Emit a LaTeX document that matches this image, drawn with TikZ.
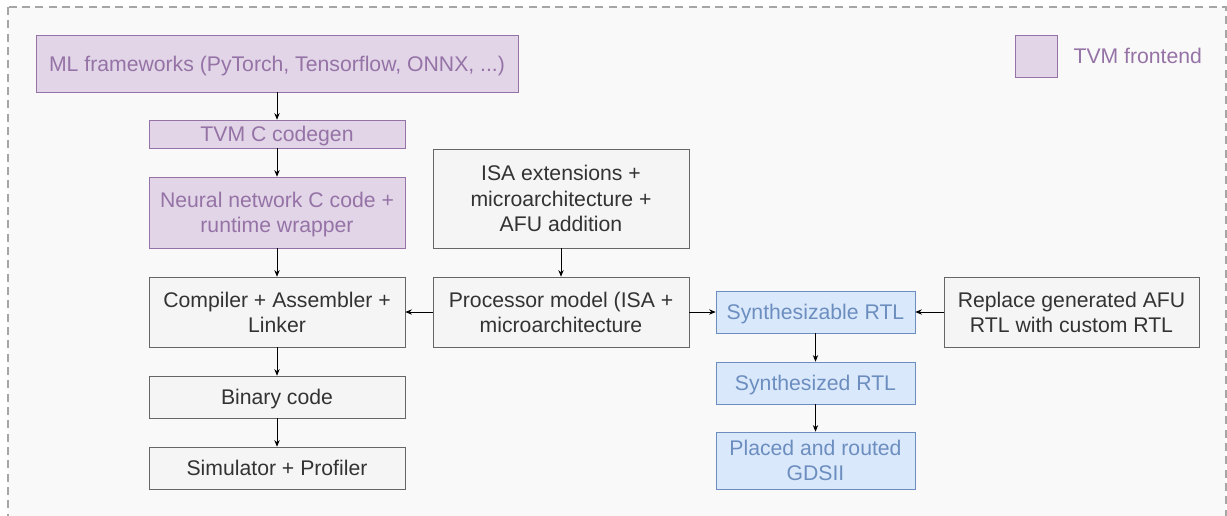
\documentclass[tikz,border=0pt]{standalone}
\usepackage{fontspec}
\setmainfont{Liberation Sans}
\usepackage{xcolor}
\usetikzlibrary{positioning, shapes, calc, arrows.meta}

\definecolor{tvmfill}{HTML}{E1D5E7}
\definecolor{tvmline}{HTML}{9673A6}
\definecolor{rtlfill}{HTML}{DAE8FC}
\definecolor{rtlline}{HTML}{6C8EBF}
\definecolor{toolfill}{HTML}{F5F5F5}
\definecolor{toolline}{HTML}{666666}
\definecolor{tooltext}{HTML}{333333}
\definecolor{pagefill}{HTML}{F9F9F9}

\begin{document}
\begin{tikzpicture}[x=0.75pt, y=-0.75pt, every node/.style={font=\fontsize{15.9}{19}\selectfont, text depth=0pt}]
	\tikzstyle{tvmbox}=[rectangle, draw=tvmline, fill=tvmfill, text=tvmline, align=center, inner sep=0pt]
	\tikzstyle{toolbox}=[rectangle, draw=toolline, fill=toolfill, text=tooltext, align=center, inner sep=0pt]
	\tikzstyle{rtlbox}=[rectangle, draw=rtlline, fill=rtlfill, text=rtlline, align=center, inner sep=0pt]
	\tikzstyle{flow}=[-{Stealth[length=5pt, width=4pt]}, black, line width=0.6pt]
	
	\useasboundingbox (0,0) rectangle (1227,515);
	\draw[dashed, draw=black!35, fill=pagefill, line width=0.9pt, dash pattern=on 6pt off 4pt] (8,7) rectangle (1226,540);
	
	% TVM frontend
	\node (f0) at (277,63.5) [tvmbox, minimum width=361.5pt, minimum height=42.75pt] {ML frameworks (PyTorch, Tensorflow, ONNX, ...)};
	\node (f1) at (277,134) [tvmbox, minimum width=192pt, minimum height=21pt] {TVM C codegen};
	\node (f2) at (277,212.5) [tvmbox, minimum width=192pt, minimum height=53.25pt] {Neural network C code +\\runtime wrapper};
	
	% software flow
	\node (c0) at (277,312) [toolbox, minimum width=192pt, minimum height=52.5pt] {Compiler + Assembler +\\Linker};
	\node (c1) at (277,397) [toolbox, minimum width=192pt, minimum height=31.5pt] {Binary code};
	\node (c2) at (277,468) [toolbox, minimum width=192pt, minimum height=31.5pt] {Simulator + Profiler};
	
	% processor
	\node (p0) at (561,198.5) [toolbox, minimum width=192pt, minimum height=74.25pt] {ISA extensions +\\microarchitecture +\\AFU addition};
	\node (p1) at (561,312) [toolbox, minimum width=192pt, minimum height=52.5pt] {Processor model (ISA +\\microarchitecture};
	
	% hardware flow
	\node (r0) at (815.5,312) [rtlbox, minimum width=149.25pt, minimum height=31.5pt] {Synthesizable RTL};
	\node (r1) at (815.5,383) [rtlbox, minimum width=149.25pt, minimum height=31.5pt] {Synthesized RTL};
	\node (r2) at (815.5,460.5) [rtlbox, minimum width=149.25pt, minimum height=42.75pt] {Placed and routed\\GDSII};
	\node (r3) at (1071.5,312) [toolbox, minimum width=191.25pt, minimum height=52.5pt] {Replace generated AFU\\RTL with custom RTL};
	
	% legend
	\node (l0) at (1036,56) [tvmbox, minimum width=31.5pt, minimum height=31.5pt] {};
	\node (l1) [right=12pt of l0, text=tvmline, inner sep=0pt] {TVM frontend};
	
	\draw[flow] (f0) -- (f1);
	\draw[flow] (f1) -- (f2);
	\draw[flow] (f2) -- (c0);
	\draw[flow] (c0) -- (c1);
	\draw[flow] (c1) -- (c2);
	
	\draw[flow] (p0) -- (p1);
	\draw[flow] (p1) -- (c0);
	\draw[flow] (p1) -- (r0);
	\draw[flow] (r3) -- (r0);
	
	\draw[flow] (r0) -- (r1);
	\draw[flow] (r1) -- (r2);
\end{tikzpicture}
\end{document}
